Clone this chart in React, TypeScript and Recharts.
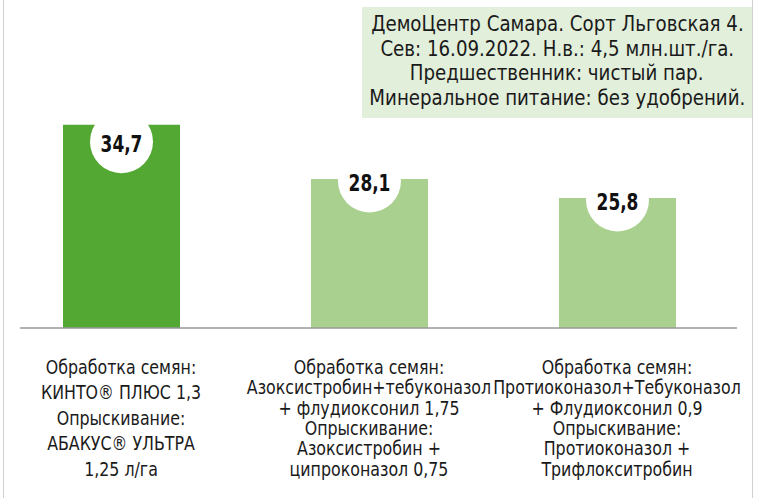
import * as React from "react";
import { BarChart, Bar, XAxis, YAxis, Cell, LabelList } from "recharts";

// Yield by treatment variant, c/ha
const variants = ["v1", "v2", "v3"];
const yields = [34.7, 28.1, 25.8];
const highlighted = [true, false, false];

const categoryLines = [
  ["Обработка семян:", "КИНТО® ПЛЮС 1,3", "Опрыскивание:", "АБАКУС® УЛЬТРА", "1,25 л/га"],
  [
    "Обработка семян:",
    "Азоксистробин+тебуконазол",
    "+ флудиоксонил 1,75",
    "Опрыскивание:",
    "Азоксистробин +",
    "ципроконазол 0,75",
  ],
  [
    "Обработка семян:",
    "Протиоконазол+Тебуконазол",
    "+ Флудиоксонил 0,9",
    "Опрыскивание:",
    "Протиоконазол +",
    "Трифлокситробин",
  ],
];

const infoLines = [
  "ДемоЦентр Самара. Сорт Льговская 4.",
  "Сев: 16.09.2022. Н.в.: 4,5 млн.шт./га.",
  "Предшественник: чистый пар.",
  "Минеральное питание: без удобрений.",
];

const FONT = "'DejaVu Sans Condensed', 'DejaVu Sans', sans-serif";
const DARK_GREEN = "#52a832";
const LIGHT_GREEN = "#a9d08e";

const chartData = variants.map((v, i) => ({
  key: v,
  value: yields[i],
  highlighted: highlighted[i],
}));

// the original face is narrower than DejaVu Condensed, so squeeze a bit
const CategoryTick = (props: any) => {
  const { x, payload } = props;
  const idx = variants.indexOf(payload.value);
  const lines = categoryLines[idx] || [];
  const step = 102 / (lines.length - 1);
  return (
    <g transform={`translate(${x},0) scale(0.88,1)`}>
      <text x={0} y={367} textAnchor="middle" fontFamily={FONT} fontSize={20} fill="#1a1a1a">
        {lines.map((line, i) => (
          <tspan key={i} x={0} y={367 + i * step} dominantBaseline="central">
            {line}
          </tspan>
        ))}
      </text>
    </g>
  );
};

const ValueBadge = (props: any) => {
  const { x, y, width, value, index } = props;
  const cx = x + width / 2;
  const cy = y + (highlighted[index] ? 17 : 2);
  return (
    <g>
      <circle cx={cx} cy={cy} r={31.5} fill="#ffffff" />
      <g transform={`translate(${cx},0) scale(0.82,1)`}>
        <text
          x={0}
          y={cy + 2}
          textAnchor="middle"
          dominantBaseline="central"
          fontFamily={FONT}
          fontWeight={700}
          fontSize={23}
          fill="#111"
        >
          {String(value).replace(".", ",")}
        </text>
      </g>
    </g>
  );
};

export default function App() {
  return (
    <div style={{ position: "relative", width: 761, height: 498, background: "#fff" }}>
      <style>{"body{margin:0}"}</style>
      <div style={{ position: "absolute", left: 3, top: 0, width: 1, height: 498, background: "#d0d0d0" }} />
      <div style={{ position: "absolute", left: 752, top: 0, width: 1, height: 498, background: "#d0d0d0" }} />
      <div
        style={{
          position: "absolute",
          left: 362,
          top: 7,
          width: 390,
          height: 111,
          background: "#e2efda",
          fontFamily: FONT,
          fontSize: 22,
          lineHeight: "24.5px",
          color: "#1a1a1a",
          paddingTop: 5,
          boxSizing: "border-box",
        }}
      >
        {infoLines.map((l, i) => (
          <div key={i} style={{ display: "flex", justifyContent: "center", whiteSpace: "nowrap" }}>
            <span style={{ display: "inline-block", transform: "scaleX(0.92)", transformOrigin: "center" }}>{l}</span>
          </div>
        ))}
      </div>
      <div style={{ position: "absolute", left: 0, top: 0 }}>
        <BarChart
          width={761}
          height={498}
          data={chartData}
          margin={{ top: 81, right: 24, bottom: 0, left: 20 }}
          barCategoryGap={0}
        >
          <XAxis
            dataKey="key"
            height={170}
            axisLine={{ stroke: "#999", strokeWidth: 1.5 }}
            tickLine={false}
            interval={0}
            padding={{ left: -23, right: -4 }}
            tick={<CategoryTick />}
          />
          <YAxis hide domain={[10, 40]} allowDataOverflow />
          <Bar dataKey="value" barSize={117} isAnimationActive={false}>
            {chartData.map((d, i) => (
              <Cell key={i} fill={d.highlighted ? DARK_GREEN : LIGHT_GREEN} />
            ))}
            <LabelList dataKey="value" content={<ValueBadge />} />
          </Bar>
        </BarChart>
      </div>
    </div>
  );
}
